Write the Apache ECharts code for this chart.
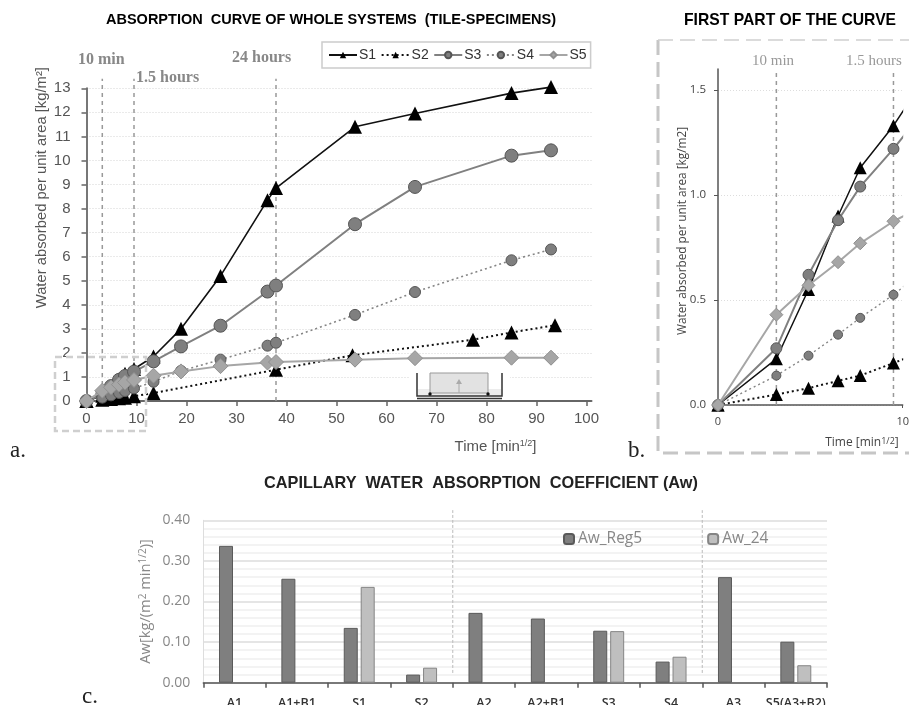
<!DOCTYPE html>
<html><head><meta charset="utf-8">
<style>html,body{margin:0;padding:0;background:#fff}#c{width:909px;height:705px}</style>
<script src="https://cdn.jsdelivr.net/npm/echarts@6/dist/echarts.min.js"></script></head>
<body><div id="c"></div>
<script>
const time=[0,3.16,4.9,6.5,7.7,9.5,13.4,18.9,26.8,36.2,37.9,53.7,65.7,85,92.9];
const timeS2=[0,3.16,4.9,6.5,7.7,9.5,13.4,37.9,53.2,77.3,85,93.7];
const S1=[0,0.22,0.55,0.9,1.13,1.33,1.85,3.0,5.2,8.35,8.85,11.4,11.95,12.8,13.05];
const S2=[0,0.05,0.08,0.115,0.14,0.2,0.33,1.3,1.9,2.55,2.85,3.15];
const S3=[0,0.27,0.62,0.88,1.04,1.22,1.65,2.27,3.13,4.55,4.8,7.35,8.9,10.2,10.42];
const S4=[0,0.14,0.235,0.335,0.415,0.525,0.8,1.25,1.72,2.3,2.42,3.58,4.53,5.85,6.3];
const S5=[0,0.43,0.57,0.68,0.77,0.875,1.05,1.23,1.45,1.6,1.62,1.72,1.78,1.8,1.8];
const refTimesA=[3.16,9.5,37.9];
const refTimesB=[3.16,9.5];
const xTicksA=[0,10,20,30,40,50,60,70,80,90,100];
const xTicksB=[0,10];
const yTicksB=[0,0.5,1,1.5];
const categories=['A1','A1+B1','S1','S2','A2','A2+B1','S3','S4','A3','S5(A3+B2)'];
const AwReg5=[0.337,0.256,0.135,0.02,0.172,0.158,0.128,0.052,0.26,0.101];
const Aw24=[null,null,0.236,0.037,null,null,0.127,0.064,null,0.043];
const separators=[4,8];

const pairs=(xs,ys)=>xs.map((x,i)=>[x,ys[i]]);
const sans='"Liberation Sans"', serif='"Liberation Serif"', open='"Open Sans"';

function curve(name,xs,ys,g,st,big){
  return {name,type:'line',xAxisIndex:g,yAxisIndex:g,data:pairs(xs,ys),symbol:st.sym,
    symbolSize:big?st.a:st.b,clip:!big,z:st.z,animation:false,silent:true,
    lineStyle:{color:st.line,width:big?st.wa:st.wb,type:st.dash?[2,3]:'solid'},
    itemStyle:{color:st.fill,borderColor:st.border,borderWidth:st.bw}};
}
const st1={sym:'triangle',a:14,b:13,line:'#111',wa:1.6,wb:1.5,fill:'#000',border:'#000',bw:0,z:3};
const st2={sym:'triangle',a:14,b:13,line:'#111',wa:2,wb:2,dash:true,fill:'#000',border:'#000',bw:0,z:3};
const st3={sym:'circle',a:13,b:11,line:'#808080',wa:2,wb:2,fill:'#7f7f7f',border:'#555',bw:1,z:4};
const st4={sym:'circle',a:11,b:9,line:'#858585',wa:1.6,wb:1.4,dash:true,fill:'#7f7f7f',border:'#555',bw:1,z:4};
const st5={sym:'diamond',a:15,b:13,line:'#a6a6a6',wa:2,wb:2,fill:'#a6a6a6',border:'#8f8f8f',bw:1,z:5};

function refLines(ts,g,top){
  return ts.map((t,i)=>({name:'ref'+g+i,type:'line',xAxisIndex:g,yAxisIndex:g,clip:false,symbol:'none',silent:true,animation:false,z:2,
    data:[[t,0],[t,top]],lineStyle:{color:'#999',width:1.5,type:[4,4]}}));
}
const sep=separators.map((s,i)=>({name:'sep'+i,type:'line',xAxisIndex:3,yAxisIndex:2,clip:false,symbol:'none',silent:true,animation:false,z:2,
  data:[[s,0.024],[s,0.425]],lineStyle:{color:'#bbb',width:1,type:[3,2]}}));

const supRich={sup:{fontSize:9,verticalAlign:'top',lineHeight:10,color:'#555',fontFamily:sans},
               sup2:{fontSize:9,verticalAlign:'top',lineHeight:10,color:'#444',fontFamily:open},
               sup3:{fontSize:10,verticalAlign:'top',lineHeight:10,color:'#888',fontFamily:open}};

const option={
 animation:false,backgroundColor:'#fff',
 title:[
  {text:'ABSORPTION  CURVE OF WHOLE SYSTEMS  (TILE-SPECIMENS)',left:106,top:12,padding:0,textStyle:{fontFamily:sans,fontSize:14.5,fontWeight:'bold',color:'#000'}},
  {text:'FIRST PART OF THE CURVE',left:684,top:13,padding:0,textStyle:{fontFamily:sans,fontSize:15.7,fontWeight:'bold',color:'#000'}},
  {text:'CAPILLARY  WATER  ABSORPTION  COEFFICIENT (Aw)',left:264,top:476,padding:0,textStyle:{fontFamily:sans,fontSize:16.3,fontWeight:'bold',color:'#222'}}
 ],
 legend:[
  {data:['S1','S2','S3','S4','S5'],left:322,top:42,itemWidth:28,itemHeight:8,itemGap:4.5,padding:[6,4,6,6],
   borderColor:'#ccc',borderWidth:1.5,textStyle:{fontFamily:sans,fontSize:14,color:'#333',padding:[0,0,0,-3]}},
  {data:['Aw_Reg5','Aw_24'],left:563,top:531,itemWidth:10,itemHeight:10,itemGap:65,padding:0,
   textStyle:{fontFamily:open,fontSize:15.5,color:'#888',padding:[0,0,0,-1]}}
 ],
 grid:[
  {left:86.5,top:88.3,width:505,height:312.7,outerBoundsMode:'none'},
  {left:718,top:69,width:184.7,height:336,outerBoundsMode:'none'},
  {left:203.3,top:520.3,width:623.7,height:162.4,outerBoundsMode:'none'}
 ],
 xAxis:[
  {gridIndex:0,type:'value',min:0,max:101,
   name:'Time [min{sup|1/2}]',nameLocation:'end',nameGap:-55,
   nameTextStyle:{fontFamily:sans,fontSize:15,color:'#555',align:'right',verticalAlign:'top',padding:[38,0,0,0],rich:supRich},
   axisLine:{lineStyle:{color:'#666',width:2}},axisTick:{show:true,length:5,lineStyle:{color:'#666',width:1.5},customValues:xTicksA},
   axisLabel:{customValues:xTicksA,fontFamily:sans,fontSize:15,color:'#555',margin:10},splitLine:{show:false}},
  {gridIndex:1,type:'value',min:0,max:10,
   name:'Time [min{sup2|1/2}]',nameLocation:'end',nameGap:-4,
   nameTextStyle:{fontFamily:open,fontSize:12,color:'#444',align:'right',verticalAlign:'top',padding:[32,0,0,0],rich:supRich},
   axisLine:{lineStyle:{color:'#555',width:1.5}},axisTick:{show:true,length:3,lineStyle:{color:'#555'},customValues:xTicksB},
   axisLabel:{customValues:xTicksB,fontFamily:open,fontSize:11,color:'#444',margin:11},splitLine:{show:false}},
  {gridIndex:2,type:'category',data:categories,
   axisLine:{lineStyle:{color:'#555',width:1.5}},axisTick:{show:true,alignWithLabel:false,length:5,lineStyle:{color:'#555',width:1.5}},
   axisLabel:{interval:0,fontFamily:open,fontSize:12.5,fontWeight:600,color:'#333',margin:14}},
  {gridIndex:2,type:'value',min:0,max:10,show:false}
 ],
 yAxis:[
  {gridIndex:0,type:'value',min:0,max:13,interval:1,
   name:'Water absorbed per unit area [kg/m²]',nameLocation:'middle',nameGap:37,nameRotate:90,nameMoveOverlap:false,
   nameTextStyle:{fontFamily:sans,fontSize:14.8,color:'#555',padding:[0,0,0,114]},
   axisLine:{show:true,lineStyle:{color:'#777',width:2}},axisTick:{show:true,length:5,lineStyle:{color:'#666',width:1.5}},
   axisLabel:{fontFamily:sans,fontSize:15,color:'#555',margin:16},
   splitLine:{show:true,lineStyle:{color:'#d4d4d4',width:1,type:[1,2]}}},
  {gridIndex:1,type:'value',min:0,max:1.6,
   name:'Water absorbed per unit area [kg/m2]',nameLocation:'middle',nameGap:29,nameRotate:90,nameMoveOverlap:false,
   nameTextStyle:{fontFamily:open,fontSize:11.8,color:'#444',padding:[0,0,0,12]},
   axisLine:{show:true,lineStyle:{color:'#555',width:1.5}},axisTick:{show:true,length:4,lineStyle:{color:'#555'},customValues:yTicksB},
   axisLabel:{customValues:yTicksB,formatter:v=>v.toFixed(1),fontFamily:open,fontSize:11.5,color:'#444',margin:12},
   splitLine:{show:true,lineStyle:{color:'#ddd',width:1,type:[1,2]}}},
  {gridIndex:2,type:'value',min:0,max:0.4,interval:0.1,
   name:'Aw[kg/(m{sup3|2} min{sup3|1/2})]',nameLocation:'middle',nameGap:50,nameRotate:90,nameMoveOverlap:false,
   nameTextStyle:{fontFamily:open,fontSize:14.7,color:'#888',rich:supRich},
   axisLine:{show:true,lineStyle:{color:'#ddd',width:1}},axisTick:{show:false},
   axisLabel:{formatter:v=>v.toFixed(2),fontFamily:open,fontSize:14,color:'#888',margin:13},
   splitLine:{show:true,lineStyle:{color:'#ddd',width:1.5}},
   minorTick:{show:false,splitNumber:5},minorSplitLine:{show:true,lineStyle:{color:'#f0f0f0',width:1.5}}}
 ],
 series:[
  ...refLines(refTimesA,0,13.4),
  curve('S1',time,S1,0,st1,true),curve('S2',timeS2,S2,0,st2,true),curve('S3',time,S3,0,st3,true),curve('S4',time,S4,0,st4,true),curve('S5',time,S5,0,st5,true),
  ...refLines(refTimesB,1,1.6),
  curve('S1 first part',time,S1,1,st1,false),curve('S2 first part',timeS2,S2,1,st2,false),curve('S3 first part',time,S3,1,st3,false),curve('S4 first part',time,S4,1,st4,false),curve('S5 first part',time,S5,1,st5,false),
  {name:'Aw_Reg5',type:'bar',xAxisIndex:2,yAxisIndex:2,data:AwReg5,barWidth:14,barGap:'21%',itemStyle:{color:'#7f7f7f',borderColor:'#5a5a5a',borderWidth:1},animation:false,z:3},
  {name:'Aw_24',type:'bar',xAxisIndex:2,yAxisIndex:2,data:Aw24,barWidth:14,barGap:'21%',itemStyle:{color:'#bfbfbf',borderColor:'#858585',borderWidth:1},animation:false,z:3},
  ...sep
 ],
 graphic:[
  {type:'rect',shape:{x:903.2,y:70,width:6,height:333},z:6,style:{fill:'#fff'}},
  {type:'rect',shape:{x:55,y:357,width:91,height:74},z:6,style:{fill:'none',stroke:'#cfcfcf',lineWidth:2.5,lineDash:[7,4]}},
  {type:'polyline',shape:{points:[[658,40],[658,453],[909,453]]},z:6,style:{fill:'none',stroke:'#c6c6c6',lineWidth:3,lineDash:[15,7]}},
  {type:'line',shape:{x1:658,y1:40,x2:909,y2:40},z:6,style:{stroke:'#d0d0d0',lineWidth:1.5,lineDash:[15,7]}},
  {type:'text',x:78,y:52,z:7,style:{text:'10 min',fontFamily:serif,fontSize:16,fontWeight:'bold',fill:'#888'}},
  {type:'text',x:136,y:70,z:7,style:{text:'1.5 hours',fontFamily:serif,fontSize:16,fontWeight:'bold',fill:'#888'}},
  {type:'text',x:232,y:50,z:7,style:{text:'24 hours',fontFamily:serif,fontSize:16,fontWeight:'bold',fill:'#888'}},
  {type:'text',x:752,y:54,z:7,style:{text:'10 min',fontFamily:serif,fontSize:15,fill:'#999'}},
  {type:'text',x:846,y:54,z:7,style:{text:'1.5 hours',fontFamily:serif,fontSize:15,fill:'#999'}},
  {type:'text',x:10,y:439,z:7,style:{text:'a.',fontFamily:serif,fontSize:23,fill:'#222'}},
  {type:'text',x:628,y:439,z:7,style:{text:'b.',fontFamily:serif,fontSize:23,fill:'#222'}},
  {type:'text',x:82,y:685,z:7,style:{text:'c.',fontFamily:serif,fontSize:23,fill:'#222'}},
  {type:'rect',shape:{x:410,y:370,width:100,height:29},z:1,style:{fill:'#fff'}},
  {type:'rect',shape:{x:418,y:389,width:83,height:7},z:6,style:{fill:'#ececec'}},
  {type:'rect',shape:{x:430,y:373,width:58,height:20},z:6,style:{fill:'#e2e2e2',stroke:'#999',lineWidth:1}},
  {type:'polyline',shape:{points:[[417,373],[417,396],[502,396],[502,373]]},z:7,style:{fill:'none',stroke:'#333',lineWidth:1.5}},
  {type:'line',shape:{x1:417,y1:398.5,x2:502,y2:398.5},z:7,style:{stroke:'#333',lineWidth:1.5}},
  {type:'circle',shape:{cx:430,cy:394,r:1.7},z:7,style:{fill:'#111'}},
  {type:'circle',shape:{cx:488,cy:394,r:1.7},z:7,style:{fill:'#111'}},
  {type:'line',shape:{x1:459,y1:393,x2:459,y2:382},z:7,style:{stroke:'#aaa',lineWidth:1}},
  {type:'polygon',shape:{points:[[459,379],[456,384],[462,384]]},z:7,style:{fill:'#aaa'}}
 ]
};
const chart=echarts.init(document.getElementById('c'),null,{renderer:'canvas'});
chart.setOption(option);
</script></body></html>
